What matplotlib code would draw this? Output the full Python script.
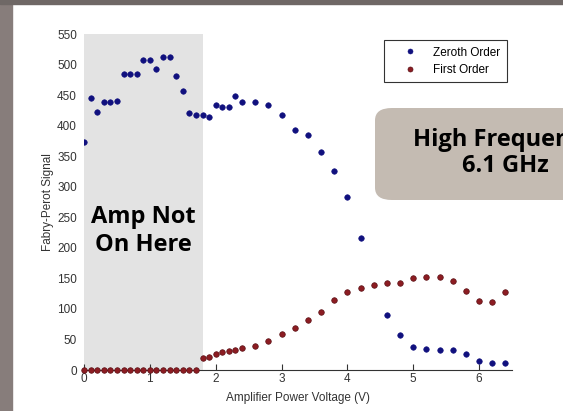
import matplotlib
matplotlib.use("Agg")
import matplotlib.pyplot as plt
from matplotlib.patches import Rectangle, FancyBboxPatch

plt.rcParams["font.family"] = ["Liberation Sans", "DejaVu Sans"]

# Zeroth order (blue) readings
x_zero = [0.0, 0.1, 0.2, 0.3, 0.4, 0.5, 0.6, 0.7, 0.8, 0.9, 1.0, 1.1, 1.2, 1.3,
          1.4, 1.5, 1.6, 1.7, 1.8, 1.9, 2.0, 2.1, 2.2, 2.3, 2.4, 2.6, 2.8, 3.0,
          3.2, 3.4, 3.6, 3.8, 4.0, 4.2, 4.6, 4.8, 5.0, 5.2, 5.4, 5.6, 5.8, 6.0,
          6.2, 6.4]
y_zero = [373, 446, 422, 438, 438, 441, 484, 484, 484, 508, 508, 493, 513, 513,
          481, 457, 421, 417, 417, 414, 433, 430, 430, 449, 438, 438, 433, 417,
          393, 385, 357, 325, 284, 216, 90, 58, 37, 35, 32, 32, 27, 14,
          11, 11]

# First order (red) readings
x_first = [0.0, 0.1, 0.2, 0.3, 0.4, 0.5, 0.6, 0.7, 0.8, 0.9, 1.0, 1.1, 1.2, 1.3,
           1.4, 1.5, 1.6, 1.7, 1.8, 1.9, 2.0, 2.1, 2.2, 2.3, 2.4, 2.6, 2.8, 3.0,
           3.2, 3.4, 3.6, 3.8, 4.0, 4.2, 4.4, 4.6, 4.8, 5.0, 5.2, 5.4, 5.6, 5.8,
           6.0, 6.2, 6.4]
y_first = [0, 0, 0, 0, 0, 0, 0, 0, 0, 0, 0, 0, 0, 0,
           0, 0, 0, 0, 19, 22, 26, 29, 31, 33, 36, 40, 48, 59,
           68, 82, 95, 115, 127, 134, 139, 142, 142, 150, 152, 153, 146, 129,
           113, 111, 127]

AMP_OFF = (0.0, 1.8)   # voltage range where the amplifier is off
C_ZERO, C_FIRST = "#10107e", "#8c1c22"
C_TXT = "#333333"

fig = plt.figure(figsize=(5.63, 4.11), dpi=100, facecolor="white")

# slide frame around the pasted chart
fig.patches.append(Rectangle((0, 0), 12 / 563, 1, transform=fig.transFigure,
                             color="#877d7b", zorder=0))
fig.patches.append(Rectangle((0, 1 - 4 / 411), 1, 4 / 411, transform=fig.transFigure,
                             color="#6f6866", zorder=0))

ax = fig.add_axes([84 / 563, 1 - 370 / 411, 428 / 563, 336 / 411])
ax.axvspan(*AMP_OFF, ymin=0, ymax=1, color="#e3e3e3", lw=0, zorder=0)
ax.plot(x_zero, y_zero, "o", color=C_ZERO, ms=4, mec=C_ZERO, mew=0.4,
        label="Zeroth Order", zorder=3)
ax.plot(x_first, y_first, "o", color=C_FIRST, ms=4, mec="#5a1015", mew=0.5,
        label="First Order", zorder=3, clip_on=False)

ax.set_xlim(0, 6.5)
ax.set_ylim(0, 550)
ax.set_xticks(range(0, 7))
ax.set_yticks(range(0, 551, 50))
for s in ("top", "right", "left"):
    ax.spines[s].set_visible(False)
ax.spines["bottom"].set_color(C_TXT)
ax.tick_params(axis="x", direction="in", length=4, color=C_TXT,
               labelsize=8.5, labelcolor=C_TXT, pad=2)
ax.tick_params(axis="y", length=0, labelsize=8.5, labelcolor=C_TXT, pad=5)
ax.set_xlabel("Amplifier Power Voltage (V)", fontsize=8.5, color=C_TXT, labelpad=5)
ax.set_ylabel("Fabry-Perot Signal", fontsize=8.5, color=C_TXT, labelpad=2)
ax.patch.set_visible(False)

leg = ax.legend(loc="upper right", bbox_to_anchor=(0.988, 0.982), borderaxespad=0,
                fontsize=8.5, frameon=True, fancybox=False, edgecolor="black",
                borderpad=0.55, handletextpad=0.35, handlelength=3.3,
                labelspacing=0.45, markerscale=0.9)
leg.get_frame().set_linewidth(0.8)

ax.text(0.9, 228, "Amp Not\nOn Here", ha="center", va="center", fontsize=17,
        fontweight="bold", family="Open Sans", linespacing=1.2, color="black")

# callout box cut off at the right edge of the slide
fig.patches.append(FancyBboxPatch((375 / 563, 1 - 200 / 411), 280 / 563, 92 / 411,
                                  boxstyle="round,pad=0,rounding_size=0.03",
                                  transform=fig.transFigure, facecolor="#c4bbb2",
                                  edgecolor="none", zorder=1))
fig.text(505 / 563, 1 - 153 / 411, "High Frequency\n6.1 GHz", ha="center", va="center",
         fontsize=17, fontweight="bold", family="Open Sans", linespacing=1.15,
         color="black", zorder=2)

fig.savefig("out.png", dpi=100, facecolor="white")
